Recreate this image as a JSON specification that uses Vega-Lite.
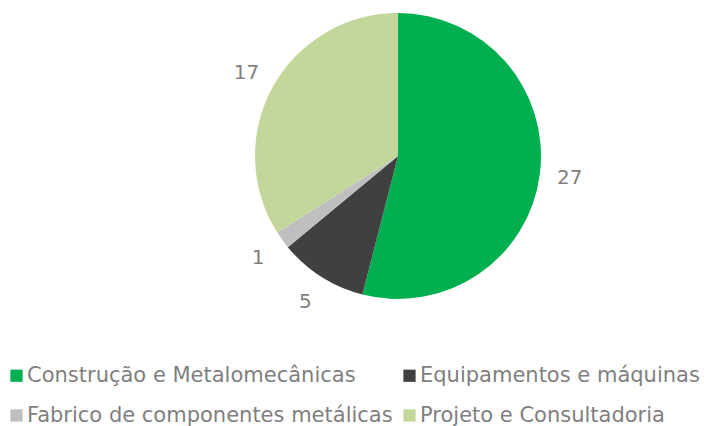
{
  "$schema": "https://vega.github.io/schema/vega-lite/v6.json",
  "autosize": {"type": "none"},
  "width": 612,
  "height": 312,
  "padding": {"left": 92, "top": 0, "right": 0, "bottom": 114},
  "background": "white",
  "config": {"view": {"stroke": null}, "font": "DejaVu Sans"},
  "data": {"values": [
    {"categoria": "Construção e Metalomecânicas", "valor": 27, "ordem": 1},
    {"categoria": "Equipamentos e máquinas", "valor": 5, "ordem": 2},
    {"categoria": "Fabrico de componentes metálicas", "valor": 1, "ordem": 3},
    {"categoria": "Projeto e Consultadoria", "valor": 17, "ordem": 4}
  ]},
  "encoding": {
    "theta": {"field": "valor", "type": "quantitative", "stack": true},
    "order": {"field": "ordem", "type": "quantitative"},
    "color": {
      "field": "categoria", "type": "nominal",
      "scale": {
        "domain": ["Construção e Metalomecânicas", "Equipamentos e máquinas", "Fabrico de componentes metálicas", "Projeto e Consultadoria"],
        "range": ["#00B050", "#404040", "#BFBFBF", "#C4D79B"]
      },
      "legend": {
        "title": null,
        "orient": "none",
        "direction": "horizontal",
        "legendX": -86,
        "legendY": 365,
        "columns": 2,
        "symbolType": "square",
        "symbolSize": 150,
        "symbolStrokeWidth": 0,
        "labelFontSize": 21,
        "labelColor": "#7F7F7F",
        "labelLimit": 500,
        "labelOffset": 0,
        "rowPadding": 18,
        "columnPadding": 6
      }
    }
  },
  "layer": [
    {"mark": {"type": "arc", "outerRadius": 143}},
    {
      "mark": {"type": "text", "radius": 173, "fontSize": 20, "color": "#7F7F7F"},
      "encoding": {"text": {"field": "valor", "type": "quantitative"}, "color": {"value": "#7F7F7F"}}
    }
  ]
}
